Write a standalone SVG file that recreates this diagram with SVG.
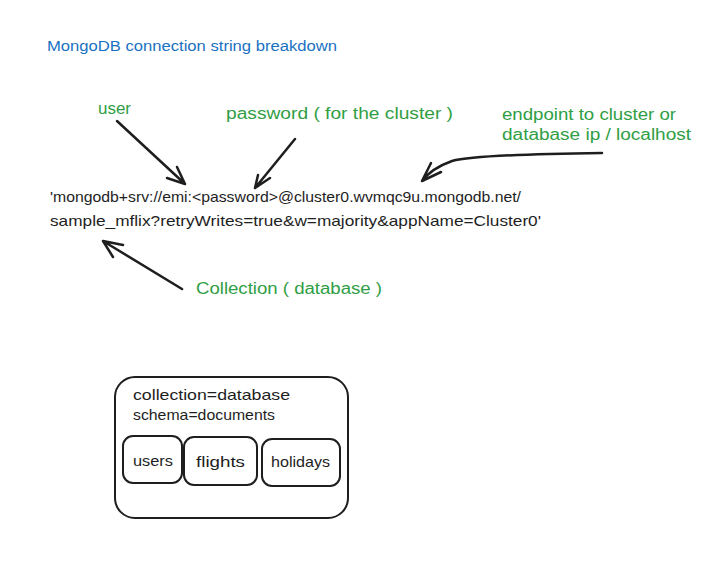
<svg xmlns="http://www.w3.org/2000/svg" width="714" height="563" viewBox="0 0 714 563">
<style>
text { font-family: "Liberation Sans", "DejaVu Sans", sans-serif; }
.title { fill: #1971c2; font-size: 14px; }
.green { fill: #2f9e44; font-size: 16px; }
.dark { fill: #1e1e1e; font-size: 16px; }
.conn { fill: #1e1e1e; font-size: 15px; }
.box { fill: #1e1e1e; font-size: 15px; }
.stroke { fill: none; stroke: #1e1e1e; stroke-width: 2; stroke-linecap: round; stroke-linejoin: round; }
.arrow { fill: none; stroke: #1e1e1e; stroke-width: 2.5; stroke-linecap: round; stroke-linejoin: round; }
</style>
<rect width="714" height="563" fill="#ffffff"/>
<g id="title">
<text class="title" x="47" y="51" textLength="290" lengthAdjust="spacingAndGlyphs">MongoDB connection string breakdown</text>
</g>
<g id="label-user">
<text class="green" x="98" y="114" textLength="33" lengthAdjust="spacingAndGlyphs">user</text>
</g>
<g id="label-password">
<text class="green" x="226" y="119" textLength="227" lengthAdjust="spacingAndGlyphs">password ( for the cluster )</text>
</g>
<g id="label-endpoint">
<text class="green" x="502" y="120" textLength="174" lengthAdjust="spacingAndGlyphs">endpoint to cluster or</text>
<text class="green" x="502" y="140" textLength="189" lengthAdjust="spacingAndGlyphs">database ip / localhost</text>
</g>
<g id="connection-string">
<text class="conn" x="50" y="202" textLength="471" lengthAdjust="spacingAndGlyphs">'mongodb+srv://emi:&lt;password&gt;@cluster0.wvmqc9u.mongodb.net/</text>
<text class="conn" x="50" y="226" textLength="491" lengthAdjust="spacingAndGlyphs">sample_mflix?retryWrites=true&amp;w=majority&amp;appName=Cluster0'</text>
</g>
<g id="label-collection">
<text class="green" x="196" y="294" textLength="186" lengthAdjust="spacingAndGlyphs">Collection ( database )</text>
</g>
<g id="connectors">
<path class="arrow" d="M117,121 L185,184 M167,178 L185,184 L177,167"/>
<path class="arrow" d="M295,139 L255,188 M258,175 L255,188 L270,178"/>
<path class="arrow" d="M602,153 C520,154 470,156 452,161 C438,166 428,173 422,181 M431,163 L422,181 L441,172"/>
<path class="arrow" d="M182,289 L103,241 M123,245 L103,241 L113,257"/>
</g>
<g id="database-box">
<rect class="stroke" x="115" y="377" width="233" height="141" rx="20"/>
<text class="box" x="133" y="400" textLength="157" lengthAdjust="spacingAndGlyphs">collection=database</text>
<text class="box" x="133" y="420" textLength="142" lengthAdjust="spacingAndGlyphs">schema=documents</text>
</g>
<g id="users">
<rect class="stroke" x="123" y="436" width="59" height="47" rx="10"/>
<text class="box" x="133" y="466" textLength="40" lengthAdjust="spacingAndGlyphs">users</text>
</g>
<g id="flights">
<rect class="stroke" x="184" y="437" width="73" height="48" rx="10"/>
<text class="box" x="196" y="467" textLength="49" lengthAdjust="spacingAndGlyphs">flights</text>
</g>
<g id="holidays">
<rect class="stroke" x="262" y="439" width="78" height="47" rx="10"/>
<text class="box" x="271" y="467" textLength="59" lengthAdjust="spacingAndGlyphs">holidays</text>
</g>
</svg>
